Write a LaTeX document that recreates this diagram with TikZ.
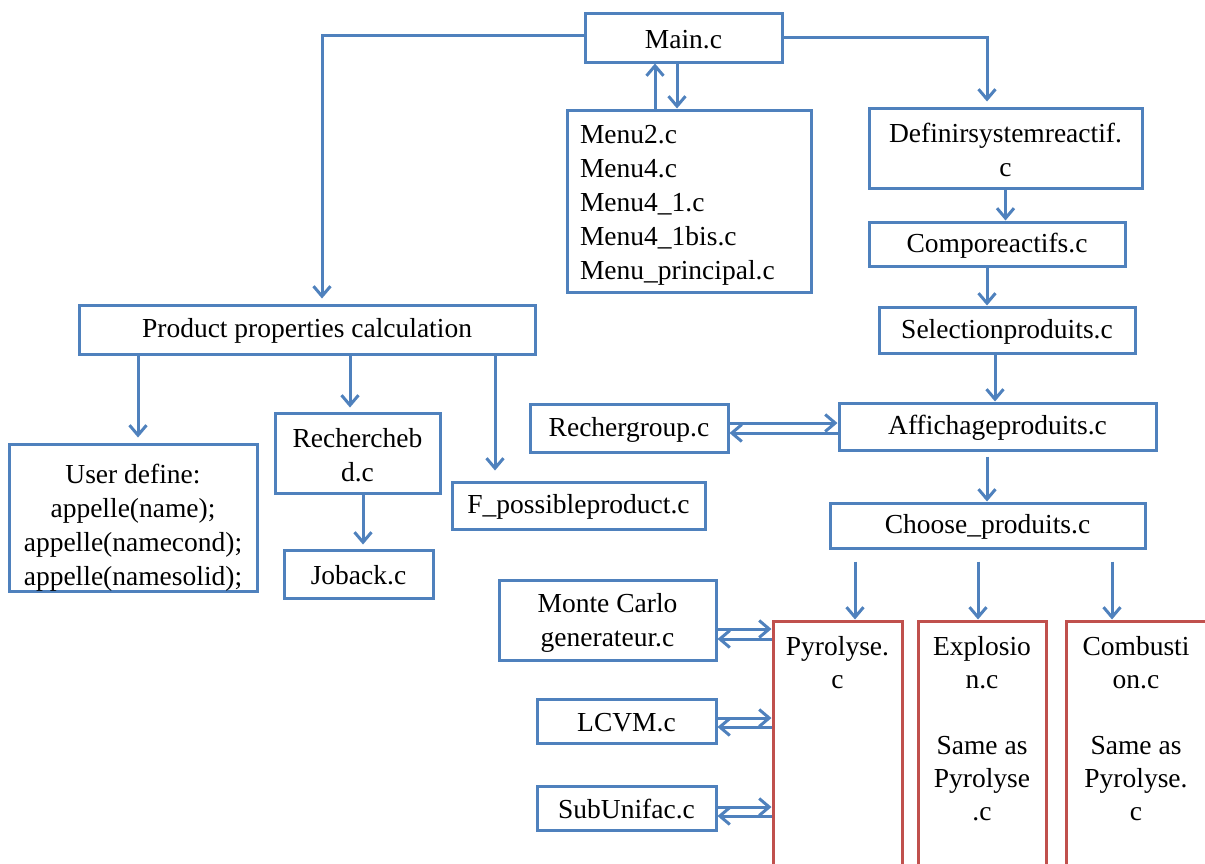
\documentclass[tikz,border=0pt]{standalone}
\usepackage{fontspec}
\setmainfont{Liberation Serif}
\usetikzlibrary{positioning, calc, arrows.meta}
\definecolor{boxblue}{RGB}{79,129,189}
\definecolor{boxred}{RGB}{192,80,77}
\tikzset{
  box/.style={draw=boxblue, line width=3pt, inner sep=0pt, align=center, execute at begin node={\rule{0pt}{22pt}}},
  redbox/.style={draw=boxred, line width=3pt, inner sep=0pt},
  arr/.style={draw=boxblue, line width=3pt, -{Straight Barb[length=10pt,width=17pt]}},
}

\begin{document}
\begin{tikzpicture}[x=1pt, y=-1pt, font=\fontsize{27.5}{34}\selectfont]
            \useasboundingbox (0,0) rectangle (1205,863);
            \clip (0,0) rectangle (1205,863);

            % Top
            \node[box, minimum width=197, minimum height=49] (main) at (683.5,37.5) {Main.c};
            \node[box, minimum width=244, minimum height=182, text width=218, align=left] (menu) at (689,201)
                {\rule{0pt}{27pt}Menu2.c\\Menu4.c\\Menu4\_1.c\\Menu4\_1bis.c\\Menu\_principal.c};

            % Right column
            \node[box, minimum width=273, minimum height=80] (defin) at (1005.5,148) {\rule{0pt}{24pt}Definirsystemreactif.\\c};
            \node[box, minimum width=256, minimum height=44] (compo) at (997,244) {Comporeactifs.c};
            \node[box, minimum width=256, minimum height=46] (selec) at (1007,330) {Selectionproduits.c};
            \node[box, minimum width=317, minimum height=47] (affic) at (997.5,426.5) {Affichageproduits.c};
            \node[box, minimum width=198, minimum height=48] (recgr) at (629,428) {Rechergroup.c};
            \node[box, minimum width=315, minimum height=45] (choos) at (987.5,525.5) {Choose\_produits.c};

            % Left part
            \node[box, minimum width=456, minimum height=49] (prod) at (307,329.5) {Product properties calculation};
            \node[box, minimum width=248, minimum height=147] (user) at (133,517.5)
                {\rule{0pt}{39pt}User define:\\appelle(name);\\appelle(namecond);\\appelle(namesolid);};
            \node[box, minimum width=165, minimum height=80] (rbd) at (357.5,453) {\rule{0pt}{24pt}Rechercheb\\d.c};
            \node[box, minimum width=149, minimum height=48] (job) at (358.5,574) {Joback.c};
            \node[box, minimum width=253, minimum height=47] (fposs) at (578.5,505.5) {F\_possibleproduct.c};

            % Helpers of Pyrolyse
            \node[box, minimum width=217, minimum height=80] (monte) at (607.5,620) {\rule{0pt}{24pt}Monte Carlo\\generateur.c};
            \node[box, minimum width=179, minimum height=44] (lcvm) at (626.5,721) {LCVM.c};
            \node[box, minimum width=179, minimum height=44] (subun) at (626.5,808) {SubUnifac.c};

            % Reaction boxes (open at the bottom)
            \node[redbox, minimum width=129, minimum height=279] (pyro) at (837.5,760.5) {};
            \node[redbox, minimum width=128, minimum height=279] (expl) at (982,760.5) {};
            \node[redbox, minimum width=146, minimum height=279] (comb) at (1139,760.5) {};
            \node[anchor=north, align=center, font=\fontsize{27.5}{33}\selectfont] (pyrotxt) at ([yshift=-13pt]pyro.north) {Pyrolyse.\\c};
            \node[anchor=north, align=center, font=\fontsize{27.5}{33}\selectfont] (expltxt) at ([yshift=-13pt]expl.north) {Explosio\\n.c\\[33pt]Same as\\Pyrolyse\\.c};
            \node[anchor=north, align=center, font=\fontsize{27.5}{33}\selectfont] (combtxt) at ([yshift=-13pt,xshift=-3pt]comb.north) {Combusti\\on.c\\[33pt]Same as\\Pyrolyse.\\c};

            % Connectors from Main
            \draw[arr] (main.west |- 0,35) -| ([yshift=5pt]prod.north -| 322,0);
            \draw[arr] (main.east) -| ([yshift=5pt]defin.north -| 987,0);
            \draw[arr] (menu.north -| 655,0) -- (main.south -| 655,0);
            \draw[arr] (main.south -| 677,0) -- (menu.north -| 677,0);

            % Right column chain
            \draw[arr] (defin.south) -- (compo.north -| defin.south);
            \draw[arr] (compo.south -| 987,0) -- (selec.north -| 987,0);
            \draw[arr] (selec.south -| 995,0) -- (affic.north -| 995,0);
            \draw[arr] ([yshift=-5pt]affic.south -| 987,0) -- (choos.north -| 987,0);
            \draw[arr] (recgr.east |- 0,423) -- (affic.west |- 0,423);
            \draw[arr] (affic.west |- 0,433) -- (recgr.east |- 0,433);
            \draw[arr] ([yshift=-12pt]choos.south -| 855,0) -- (pyro.north -| 855,0);
            \draw[arr] ([yshift=-12pt]choos.south -| 978,0) -- (expl.north -| 978,0);
            \draw[arr] ([yshift=-12pt]choos.south -| 1112,0) -- (comb.north -| 1112,0);

            % Product properties branches
            \draw[arr] (prod.south -| 138,0) -- ([yshift=5pt]user.north -| 138,0);
            \draw[arr] (prod.south -| 350,0) -- ([yshift=4pt]rbd.north -| 350,0);
            \draw[arr] (prod.south -| 495,0) -- ([yshift=10pt]fposs.north -| 495,0);
            \draw[arr] (rbd.south -| 363,0) -- ([yshift=4pt]job.north -| 363,0);

            % Two-way links to Pyrolyse
            \foreach \src/\ya/\yb in {monte/629/639, lcvm/718/727, subun/807/816} {
                \draw[arr] (\src.east |- 0,\ya) -- (pyro.west |- 0,\ya);
                \draw[arr] (pyro.west |- 0,\yb) -- (\src.east |- 0,\yb);
            }

        \end{tikzpicture}
\end{document}
